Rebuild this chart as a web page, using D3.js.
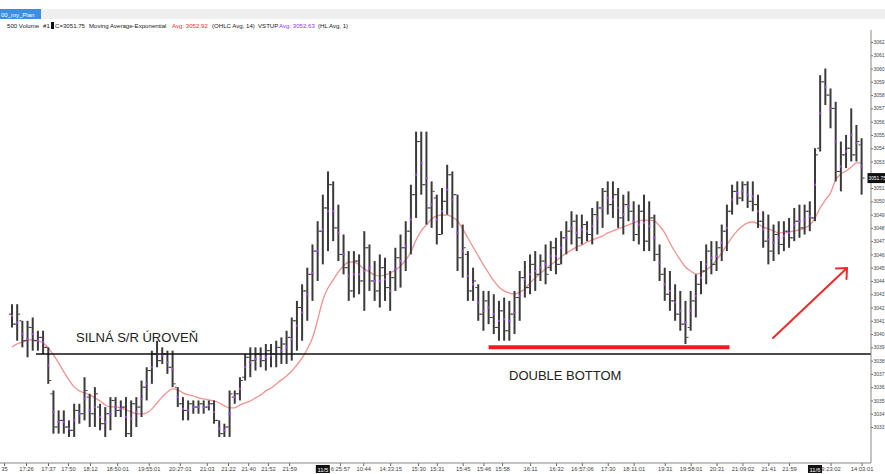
<!DOCTYPE html>
<html>
<head>
<meta charset="utf-8">
<script src="https://cdn.jsdelivr.net/npm/d3@7"></script>
<style>
body { margin: 0; background: #fff; overflow: hidden; }
svg { display: block; font-family: "Liberation Sans", Arial, sans-serif; }
</style>
</head>
<body>
<svg id="chart"></svg>
<script>
// ES 1-bar OHLC data (index = bar number)
let highs = [3042.25,3042.25,3041,3041,3041.25,3040.25,3040.25,3039,3035.75,3034.25,
  3034.25,3033.5,3034.75,3034.75,3036.75,3035.5,3036,3034.75,3034.5,3035.25,
  3035.25,3035,3035.25,3035,3035.25,3036.5,3037.5,3038.75,3039.5,3039,
  3038.75,3038.75,3036,3035.25,3035,3035,3035,3035,3035,3035,
  3033.5,3033.25,3035.75,3035.75,3036.75,3038.5,3039,3039,3039,3039.25,
  3039.25,3039.5,3039.75,3040.25,3041.25,3042.5,3043.75,3045,3046.75,3048.5,
  3050.5,3052.25,3051.5,3049.75,3047.5,3046.25,3046.25,3046,3047.75,3046.75,
  3045.5,3046,3045.75,3044.75,3046.5,3047.5,3048.5,3051.25,3055.25,3055.25,
  3055.25,3051.5,3050.5,3051,3052.75,3052.25,3050.5,3048.25,3046.25,3045,
  3043.75,3043.25,3043.25,3043,3042.5,3042.75,3042.5,3043.25,3044.75,3045.5,
  3046,3046.25,3046,3046.75,3047,3047.25,3047.75,3048.5,3049.25,3049,
  3049,3048.5,3049.5,3050,3051,3051.5,3051.5,3051,3050.5,3050.75,
  3050,3049.75,3050.5,3050,3049,3046.75,3045,3044.75,3043.75,3043.25,
  3042.5,3043.25,3044.5,3045.5,3046.75,3047,3047,3048.25,3049.75,3051.25,
  3051.5,3051.5,3051.5,3051.5,3050.5,3049.25,3049,3048.25,3048.5,3048.5,
  3048.75,3049.5,3049.75,3049.75,3050,3054,3059.5,3060,3058.5,3057.5,
  3054.5,3055,3057,3055.75,3054.75];

let lows = [3040.5,3039.5,3039,3038.25,3038.75,3038.75,3038.5,3036.25,3032.5,3032.5,
  3032.5,3032.25,3032.25,3033.25,3033.5,3033,3033,3032.75,3032.25,3032.75,
  3033.75,3033.75,3032.25,3032.25,3033,3033.75,3035,3036.25,3037.5,3037.75,
  3037,3036,3034.5,3033.5,3033.5,3034,3034,3034,3034.25,3033.25,
  3032.25,3032.25,3032.25,3034.75,3035,3036.5,3036.75,3037.25,3037.5,3037.25,
  3037.5,3037.5,3037.75,3037.75,3038,3038.75,3039.5,3041,3042.5,3044,
  3045.25,3046.25,3047,3045.5,3044.5,3042.5,3042.75,3043,3041.75,3043.25,
  3042.5,3042,3042.5,3041.75,3043.25,3043.5,3044.75,3046,3048.75,3050.5,
  3048.25,3048,3046.75,3047.5,3049,3048,3044.75,3044.25,3042.5,3042.5,
  3041,3040.25,3040.75,3040,3039.5,3039.5,3039.5,3040,3041,3042.75,
  3043,3043.25,3044,3043.75,3044.75,3044.5,3045.25,3046,3046.75,3046.25,
  3046.75,3047,3046.75,3047.5,3048,3049,3048.75,3048,3047.5,3048.5,
  3047,3046.75,3046.25,3046.25,3045.5,3044,3042.5,3041.75,3041,3040.25,
  3039.25,3040.25,3041.25,3043,3043.75,3044.5,3044.75,3045.5,3046.25,3049,
  3049.75,3050,3049.5,3049.25,3048,3046.5,3045.25,3045.5,3046,3046.25,
  3046.5,3047,3047.25,3047.5,3047.75,3048.5,3053.75,3057.25,3055.5,3051.5,
  3050.75,3052.5,3053,3053,3050.5];

let opens = [3041.5,3040.75,3041,3039.5,3040.5,3039.5,3039.75,3039,3035.5,3033,
  3033.5,3033,3032.75,3034.25,3034,3035.25,3034,3034.5,3033.25,3034,
  3035,3034.25,3034.5,3032.5,3034.75,3034.5,3036,3037.25,3038.5,3038,
  3038.5,3037.5,3036,3034.75,3034.25,3034.75,3034.5,3034.75,3034.5,3034.75,
  3033.5,3032.5,3033,3035.25,3035.5,3036.75,3038.25,3038,3038.5,3038,
  3038.75,3038.5,3039,3039.25,3039.75,3041,3042,3043.25,3044.5,3046.25,
  3047.75,3049.5,3051.25,3048,3046,3045,3043.25,3045.5,3044,3046.5,
  3044,3043.25,3045,3043.5,3044.25,3045.75,3046.5,3047.75,3050.5,3054.5,
  3051.25,3049.5,3050.25,3047.5,3050,3052,3050.5,3045.75,3046,3043.25,
  3043.5,3041.5,3042.5,3041.25,3040.5,3041.75,3040.25,3041.5,3042.75,3044.25,
  3043.5,3045.25,3044.5,3045.5,3045,3046.5,3045.25,3047.25,3047.75,3048.5,
  3047.25,3048.25,3047.5,3049,3049.5,3050.75,3049.75,3050.5,3048.75,3049.75,
  3049.25,3047.5,3049.25,3047,3048.75,3046,3044.5,3043,3042.5,3041.5,
  3040.75,3040.5,3042.5,3043.75,3044.75,3046.25,3045.25,3046.5,3047.75,3049.25,
  3050.75,3050.25,3051.25,3050,3049.75,3048.5,3047,3046.25,3047.5,3046.75,
  3047.75,3047.25,3048.5,3048,3049.25,3048.75,3054,3059,3058,3057,
  3052.25,3053.5,3054,3053.5,3054.25];

let closes = [3040.75,3041.5,3039.5,3040.5,3039.5,3039.75,3039,3036.5,3033,3033.5,
  3033,3032.75,3034.25,3034,3035.75,3034,3035.5,3033.25,3034,3035,
  3034.25,3034.5,3032.5,3034.75,3034.5,3036,3037.25,3038.5,3038,3038.5,
  3037.5,3036.25,3034.75,3034.25,3034.75,3034.5,3034.75,3034.5,3034.75,3033.5,
  3032.5,3033,3035.5,3035.5,3036.5,3038.25,3038,3038.5,3038,3038.75,
  3038.5,3039,3039.25,3039.75,3041,3042,3043.25,3044.5,3046.25,3047.75,
  3049.5,3051.25,3048,3046,3045,3043.25,3045.5,3044,3046.5,3044,
  3043.25,3045,3043.5,3044.25,3045.75,3046.5,3047.75,3050.5,3054.5,3051.25,
  3049.5,3050.75,3047.5,3050,3052,3050.5,3045.75,3046.5,3043.25,3044,
  3041.5,3042.5,3041.25,3040.5,3041.75,3040.25,3041.5,3042.75,3044.25,3043.5,
  3045.25,3044.5,3045.5,3044.5,3046.5,3045.25,3047.25,3047.75,3048.5,3047.25,
  3048.25,3047.5,3049,3049.5,3050.75,3049.75,3050.5,3048.75,3049.75,3049.25,
  3047.5,3049.25,3047,3048.75,3046,3044.5,3043,3042.5,3041.5,3040.75,
  3039.75,3042.5,3043.75,3044.75,3046.25,3045.25,3046.5,3047.75,3049.25,3050.75,
  3050.25,3051.25,3050,3049.75,3048.5,3047,3046.25,3047.5,3046.75,3047.75,
  3047.25,3048.5,3048,3049.25,3048.75,3053.5,3059,3058,3057,3052.25,
  3053.5,3054,3053.5,3054.5,3051.75];

// Moving Average-Exponential (OHLC Avg, 14)
let emaValues = [3039.03,3039.26,3039.41,3039.56,3039.56,3039.48,3039.33,3038.96,3038.43,3037.83,
  3037.15,3036.55,3036.02,3035.72,3035.57,3035.42,3035.19,3034.96,3034.66,3034.51,
  3034.51,3034.44,3034.29,3034.14,3033.99,3033.99,3034.06,3034.36,3034.81,3035.27,
  3035.64,3035.87,3035.79,3035.57,3035.42,3035.34,3035.19,3035.12,3035.04,3034.96,
  3034.81,3034.59,3034.44,3034.44,3034.66,3034.81,3034.96,3035.19,3035.42,3035.72,
  3035.94,3036.24,3036.55,3036.85,3037.22,3037.68,3038.20,3038.88,3039.71,3041.06,
  3042.57,3043.47,3044.08,3044.68,3045.13,3045.43,3045.43,3045.21,3044.90,3044.68,
  3044.45,3044.38,3044.45,3044.60,3044.83,3045.13,3045.58,3046.18,3047.09,3047.77,
  3048.22,3048.67,3048.90,3048.97,3048.97,3048.82,3048.52,3047.92,3047.24,3046.56,
  3045.88,3045.21,3044.60,3044.00,3043.55,3043.25,3043.10,3043.02,3043.17,3043.40,
  3043.85,3044.23,3044.60,3044.90,3045.21,3045.51,3045.81,3046.11,3046.33,3046.56,
  3046.71,3046.94,3047.09,3047.24,3047.39,3047.62,3047.77,3047.92,3048.07,3048.22,
  3048.37,3048.52,3048.59,3048.59,3048.52,3048.14,3047.62,3046.86,3046.18,3045.58,
  3045.05,3044.75,3044.53,3044.60,3044.83,3045.13,3045.58,3046.11,3046.71,3047.31,
  3047.77,3048.14,3048.37,3048.44,3048.29,3048.07,3047.92,3047.77,3047.62,3047.62,
  3047.69,3047.77,3047.84,3047.99,3048.22,3048.74,3049.50,3050.10,3050.63,3051.61,
  3052.06,3052.28,3052.58,3052.89,3052.92];

// time axis labels (bar index where each label sits)
let tickIdx = [-1.55,2.7,6.95,10.8,15.05,20.3,26.4,32.4,37.6,41.7,45.6,49.4,53.5,63.3,67.8,73,78.4,82,87,91,94.6,100,105,110,115,120,126,131,136,141,146,150,158,164];
let tickLabels = ['35','17:26','17:37','17:50','18:12','18:50:01','19:55:01','20:27:01','21:03','21:22','21:40','21:52','21:59',
  '6:25:57','10:44','14:33:15','15:30','15:31','15:45','15:46','15:58','16:11','16:32','16:57:06','17:30','18:11:01',
  '19:31','19:58:01','20:31','21:09:02','21:41','21:59','9:23:02','14:03:01'];
let dayIdx = [60, 155];
let dayLabels = ['11/5', '11/6'];

let priceTicks = d3.range(3033, 3063);
let lastClose = 3051.75;
let srLevel = 3038.5;
let doubleBottom = 3039;

let width = 885;
let height = 474;
let axisX = 871;
let axisY = 463;

let xScale;
let yScale;

let svg = d3.select('#chart');

let drawCanvas = () => {
    svg.attr('width', width).attr('height', height);

    svg.append('rect').attr('x', 0).attr('y', 9).attr('width', width).attr('height', 10).attr('fill', '#efefef');
    svg.append('rect').attr('x', 0).attr('y', 9).attr('width', 41).attr('height', 10).attr('fill', '#3d8ee0');
    svg.append('text').attr('x', 1).attr('y', 16.5).attr('font-size', 6).attr('fill', '#fff').text('00_my_Plan');

    let legend = [
        { x: 7, t: '500 Volume', c: '#222' },
        { x: 43, t: '#1', c: '#222' },
        { x: 55, t: 'C=3051.75', c: '#222' },
        { x: 89, t: 'Moving Average-Exponential', c: '#222' },
        { x: 172, t: 'Avg: 3052.92', c: '#ff2b2b' },
        { x: 212, t: '(OHLC Avg, 14)', c: '#222' },
        { x: 258, t: 'VSTUP', c: '#222' },
        { x: 279, t: 'Avg: 3052.63', c: '#9933ff' },
        { x: 318, t: '(HL Avg, 1)', c: '#222' },
    ];
    svg.append('g')
        .selectAll('text')
        .data(legend)
        .enter()
        .append('text')
        .attr('x', (d) => d.x)
        .attr('y', 28)
        .attr('font-size', 6.1)
        .attr('fill', (d) => d.c)
        .text((d) => d.t);
    svg.append('rect').attr('x', 51).attr('y', 22).attr('width', 3).attr('height', 7).attr('fill', '#111');
};

let generateScales = () => {
    xScale = d3.scaleLinear().domain([0, highs.length - 1]).range([12, 861.6]);
    yScale = d3.scaleLinear().domain([3033, 3062]).range([427, 42]);
};

let drawBars = () => {
    let bars = svg.append('g').selectAll('g')
        .data(highs)
        .enter()
        .append('g');

    bars.append('line')
        .attr('x1', (d, i) => xScale(i))
        .attr('x2', (d, i) => xScale(i))
        .attr('y1', (d) => yScale(d))
        .attr('y2', (d, i) => yScale(lows[i]))
        .attr('stroke', '#3a3a3a')
        .attr('stroke-width', 2);

    bars.append('line')
        .attr('x1', (d, i) => xScale(i) - 3)
        .attr('x2', (d, i) => xScale(i) - 1)
        .attr('y1', (d, i) => yScale(opens[i]))
        .attr('y2', (d, i) => yScale(opens[i]))
        .attr('stroke', '#3a3a3a')
        .attr('stroke-width', 1);

    bars.append('line')
        .attr('x1', (d, i) => xScale(i) + 1)
        .attr('x2', (d, i) => xScale(i) + 3)
        .attr('y1', (d, i) => yScale(closes[i]))
        .attr('y2', (d, i) => yScale(closes[i]))
        .attr('stroke', '#3a3a3a')
        .attr('stroke-width', 1);

    // VSTUP = HL avg of each bar
    bars.append('rect')
        .attr('x', (d, i) => xScale(i) - 1)
        .attr('y', (d, i) => yScale((d + lows[i]) / 2) - 1)
        .attr('width', 2)
        .attr('height', 2)
        .attr('fill', '#a040ff');
};

let drawEma = () => {
    let line = d3.line()
        .x((d, i) => xScale(i))
        .y((d) => yScale(d))
        .curve(d3.curveMonotoneX);
    svg.append('path')
        .datum(emaValues)
        .attr('d', line)
        .attr('fill', 'none')
        .attr('stroke', '#f39191')
        .attr('stroke-width', 1.3);
};

let drawNotes = () => {
    svg.append('line')
        .attr('x1', 36).attr('x2', axisX)
        .attr('y1', yScale(srLevel)).attr('y2', yScale(srLevel))
        .attr('stroke', '#111').attr('stroke-width', 1.6);

    svg.append('line')
        .attr('x1', xScale(92)).attr('x2', xScale(138.5))
        .attr('y1', yScale(doubleBottom)).attr('y2', yScale(doubleBottom))
        .attr('stroke', '#ec1c24').attr('stroke-width', 4);

    svg.append('text').attr('x', 76).attr('y', 342).attr('font-size', 13).attr('fill', '#222').text('SILNÁ S/R ÚROVEŇ');
    svg.append('text').attr('x', 509).attr('y', 380).attr('font-size', 13).attr('fill', '#222').text('DOUBLE BOTTOM');

    let arrow = svg.append('g').attr('stroke', '#f02a2a').attr('stroke-width', 2).attr('fill', 'none').attr('stroke-linecap', 'round');
    arrow.append('line').attr('x1', 773).attr('y1', 338).attr('x2', 847).attr('y2', 268);
    arrow.append('polyline').attr('points', '836,268.5 847,268 846.5,279');
};

let generateAxes = () => {
    // the 3052 label sits under the last-price box
    let shownTicks = priceTicks.filter((v) => Math.abs(v - lastClose) > 0.6);
    let yAxis = d3.axisRight(yScale)
        .tickValues(shownTicks)
        .tickSize(2)
        .tickPadding(0.5)
        .tickFormat(d3.format('d'));

    let yg = svg.append('g')
        .attr('transform', `translate(${axisX}, 0)`)
        .call(yAxis);
    yg.select('.domain').remove();
    yg.selectAll('text').attr('font-size', 5).attr('fill', '#444');
    yg.selectAll('line').attr('stroke', '#666');

    let xAxis = d3.axisBottom(xScale)
        .tickValues(tickIdx)
        .tickSize(3)
        .tickPadding(1)
        .tickFormat((d, i) => tickLabels[i]);

    let xg = svg.append('g')
        .attr('transform', `translate(0, ${axisY})`)
        .call(xAxis);
    xg.select('.domain').remove();
    xg.selectAll('text').attr('font-size', 5.8).attr('fill', '#444');
    xg.selectAll('line').attr('stroke', '#666');

    svg.append('line').attr('x1', axisX).attr('x2', axisX).attr('y1', 30).attr('y2', axisY).attr('stroke', '#888');
    svg.append('line').attr('x1', 0).attr('x2', axisX).attr('y1', axisY).attr('y2', axisY).attr('stroke', '#888');

    // day change boxes on the time axis
    let days = svg.append('g').selectAll('g').data(dayIdx).enter().append('g');
    days.append('rect')
        .attr('x', (d) => xScale(d) - 7)
        .attr('y', axisY + 2)
        .attr('width', 14)
        .attr('height', 8)
        .attr('fill', '#111');
    days.append('text')
        .attr('x', (d) => xScale(d))
        .attr('y', axisY + 8.5)
        .attr('text-anchor', 'middle')
        .attr('font-size', 5.8)
        .attr('fill', '#fff')
        .text((d, i) => dayLabels[i]);

    // last price box
    svg.append('rect')
        .attr('x', axisX - 3.5)
        .attr('y', yScale(lastClose) - 5)
        .attr('width', 17.5)
        .attr('height', 10)
        .attr('fill', '#111');
    svg.append('text')
        .attr('x', axisX - 2.5)
        .attr('y', yScale(lastClose) + 1.8)
        .attr('font-size', 4.8)
        .attr('fill', '#fff')
        .text(d3.format('.2f')(lastClose));
};

drawCanvas();
generateScales();
drawEma();
drawBars();
drawNotes();
generateAxes();
</script>
</body>
</html>
